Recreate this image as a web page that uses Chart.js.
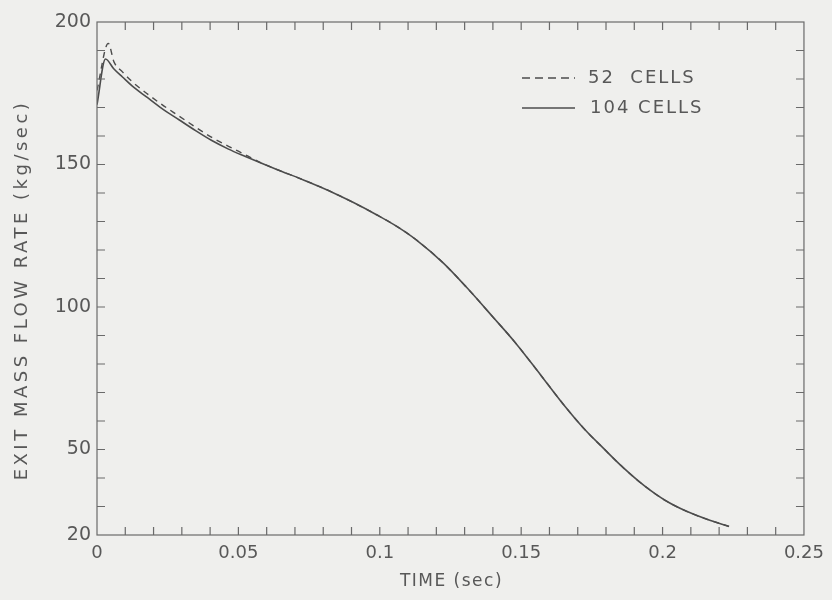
<!DOCTYPE html>
<html>
<head>
<meta charset="utf-8">
<script src="https://cdn.jsdelivr.net/npm/chart.js@4.4.1/dist/chart.umd.min.js"></script>
<style>
  html, body { margin: 0; padding: 0; background: #efefed; }
  #wrap { width: 832px; height: 600px; }
</style>
</head>
<body>
<div id="wrap"><canvas id="c" width="832" height="600"></canvas></div>
<script>
// Exit mass flow rate vs time, 104-cell and 52-cell nodalizations
const time104 = [0, 0.003, 0.006, 0.009, 0.0125, 0.0175, 0.023, 0.029, 0.035, 0.0406, 0.0465, 0.0525, 0.058, 0.064, 0.073, 0.0816, 0.09, 0.099, 0.106, 0.113, 0.1225, 0.1306, 0.14, 0.148, 0.157, 0.1656, 0.1725, 0.1786, 0.186, 0.1935, 0.201, 0.2085, 0.216, 0.2235];
const flow104 = [171, 187, 183.5, 180.7, 177.5, 173.7, 169.6, 165.7, 161.8, 158.4, 155.4, 152.8, 150.5, 148.1, 144.6, 141, 137, 132.3, 128.3, 123.5, 115.4, 107, 96.5, 87.4, 76, 65, 57, 50.9, 43.7, 37.3, 32.1, 28.3, 25.4, 23];

const time52 = [0, 0.004, 0.006, 0.009, 0.0125, 0.0175, 0.023, 0.029, 0.035, 0.0406, 0.0465, 0.0525, 0.058, 0.064, 0.073, 0.0816, 0.09, 0.099, 0.106, 0.113, 0.1225, 0.1306, 0.14, 0.148, 0.157, 0.1656, 0.1725, 0.1786, 0.186, 0.1935, 0.201, 0.2085, 0.216, 0.2235];
const flow52 = [176, 192.5, 186, 182.5, 179, 175, 171, 167, 163, 159.5, 156.4, 153.4, 150.6, 148.1, 144.6, 141, 137, 132.3, 128.3, 123.5, 115.4, 107, 96.5, 87.4, 76, 65, 57, 50.9, 43.7, 37.3, 32.1, 28.3, 25.4, 23];

const xTickLabels = [0, 0.05, 0.1, 0.15, 0.2, 0.25];
const yTickLabels = [20, 50, 100, 150, 200];
const seriesNames = ['52  CELLS', '104 CELLS'];
const xTitle = 'TIME (sec)';
const yTitle = 'EXIT MASS FLOW RATE (kg/sec)';

const INK = '#4c4c4c';
const TEXT = '#585858';
const FONT = "'DejaVu Sans', sans-serif";

const toPoints = (xs, ys) => xs.map((x, i) => ({ x: x, y: ys[i] }));

// Frame with inward minor ticks on all four sides, axis titles and the in-plot key
const framePlugin = {
  id: 'frame',
  afterDraw(chart) {
    const { ctx, chartArea: a, scales: { x, y } } = chart;
    ctx.save();
    ctx.strokeStyle = '#6a6a6a';
    ctx.lineWidth = 1.2;
    ctx.strokeRect(a.left, a.top, a.right - a.left, a.bottom - a.top);
    const len = 8;
    ctx.beginPath();
    for (let i = 1; i < 25; i++) {
      const px = x.getPixelForValue(i * 0.01);
      ctx.moveTo(px, a.bottom); ctx.lineTo(px, a.bottom - len);
      ctx.moveTo(px, a.top); ctx.lineTo(px, a.top + len);
    }
    for (let v = 30; v < 200; v += 10) {
      const py = y.getPixelForValue(v);
      ctx.moveTo(a.left, py); ctx.lineTo(a.left + len, py);
      ctx.moveTo(a.right, py); ctx.lineTo(a.right - len, py);
    }
    ctx.stroke();

    ctx.fillStyle = TEXT;
    ctx.textBaseline = 'middle';

    // axis titles
    ctx.textAlign = 'center';
    ctx.font = '17px ' + FONT;
    ctx.letterSpacing = '1.5px';
    ctx.fillText(xTitle, (a.left + a.right) / 2 + 1, 582);
    ctx.save();
    ctx.translate(22, 290);
    ctx.rotate(-Math.PI / 2);
    ctx.font = '18px ' + FONT;
    ctx.letterSpacing = '3.5px';
    ctx.fillText(yTitle, 0, 0);
    ctx.restore();

    // key
    const kx0 = 522, kx1 = 575;
    const rows = [{ y: 78, dash: [8, 5] }, { y: 108, dash: [] }];
    ctx.strokeStyle = INK;
    ctx.lineWidth = 1.5;
    ctx.font = '18px ' + FONT;
    ctx.textAlign = 'left';
    ctx.letterSpacing = '2px';
    rows.forEach((r, i) => {
      ctx.setLineDash(r.dash);
      ctx.beginPath();
      ctx.moveTo(kx0, r.y); ctx.lineTo(kx1, r.y);
      ctx.stroke();
      ctx.setLineDash([]);
      ctx.fillText(seriesNames[i], i === 0 ? 588 : 590, r.y);
    });
    ctx.restore();
  }
};

new Chart(document.getElementById('c'), {
  type: 'line',
  data: {
    datasets: [
      {
        label: seriesNames[1],
        data: toPoints(time104, flow104),
        borderColor: INK,
        borderWidth: 1.6,
        pointRadius: 0,
        cubicInterpolationMode: 'monotone',
        fill: false
      },
      {
        label: seriesNames[0],
        data: toPoints(time52, flow52),
        borderColor: INK,
        borderWidth: 1.4,
        borderDash: [6, 5],
        pointRadius: 0,
        cubicInterpolationMode: 'monotone',
        fill: false
      }
    ]
  },
  options: {
    responsive: false,
    animation: false,
    events: [],
    layout: { padding: { left: 0, top: 22, right: 21, bottom: 0 } },
    plugins: { legend: { display: false }, tooltip: { enabled: false } },
    scales: {
      x: {
        type: 'linear',
        min: 0,
        max: 0.25,
        afterBuildTicks(s) { s.ticks = xTickLabels.map(v => ({ value: v })); },
        afterFit(s) { s.height = 65; },
        grid: { display: false, drawTicks: false },
        border: { display: false },
        ticks: {
          padding: 8,
          color: TEXT,
          font: { family: FONT, size: 18 },
          maxRotation: 0,
          callback: v => String(v)
        },
        title: { display: false }
      },
      y: {
        type: 'linear',
        min: 20,
        max: 200,
        afterBuildTicks(s) { s.ticks = yTickLabels.map(v => ({ value: v })); },
        afterFit(s) { s.width = 97; },
        grid: { display: false, drawTicks: false },
        border: { display: false },
        ticks: {
          padding: 6,
          color: TEXT,
          font: { family: FONT, size: 19 },
          callback: v => String(v)
        },
        title: { display: false }
      }
    }
  },
  plugins: [framePlugin]
});
</script>
</body>
</html>
